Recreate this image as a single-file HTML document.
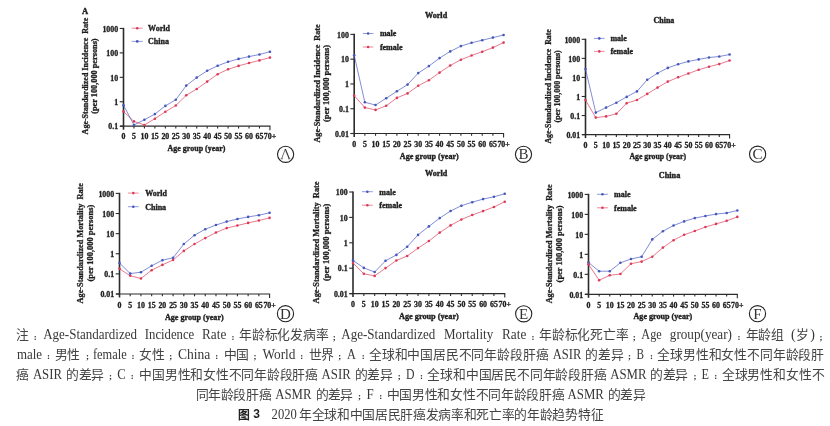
<!DOCTYPE html>
<html lang="zh-CN"><head><meta charset="utf-8"><title>Figure 3</title>
<style>
html,body{margin:0;padding:0;background:#fff;}
body{width:830px;height:426px;position:relative;overflow:hidden;font-family:"Liberation Serif",serif;}
svg{position:absolute;left:0;top:0;will-change:transform;}
.tk{font-family:"Liberation Serif",serif;font-weight:bold;font-size:7.9px;fill:#1e1e1e;stroke:#1e1e1e;stroke-width:0.3px;}
.lg{font-family:"Liberation Serif",serif;font-weight:bold;font-size:8px;fill:#1e1e1e;stroke:#1e1e1e;stroke-width:0.35px;}
.yl{font-family:"Liberation Serif",serif;font-weight:bold;font-size:8.2px;fill:#1e1e1e;stroke:#1e1e1e;stroke-width:0.3px;white-space:pre;}
.cl{font-family:"Liberation Serif",serif;font-size:15px;fill:#333;}
.cc{font-family:"Liberation Serif",serif;font-size:12.8px;fill:#444;}
.cl2{font-family:"Liberation Serif",serif;font-size:14px;fill:#383838;}
.cp{font-family:"Liberation Serif",serif;font-weight:bold;font-size:9px;fill:#333;}
.cb{font-family:"Liberation Sans",sans-serif;font-weight:bold;font-size:11.5px;fill:#222;}
.cb3{font-family:"Liberation Sans",sans-serif;font-weight:bold;font-size:12px;fill:#222;}
.cap{position:absolute;white-space:nowrap;font-family:"Liberation Serif",serif;font-size:13px;color:#3a3a3a;line-height:20px;}
</style></head><body>
<svg width="830" height="426" viewBox="0 0 830 426">
<line x1="123.5" y1="27.85" x2="123.5" y2="129.7" stroke="#2b2b2b" stroke-width="1.6"/>
<line x1="120" y1="126.2" x2="270.44" y2="126.2" stroke="#2b2b2b" stroke-width="1.2"/>
<line x1="119.7" y1="28.45" x2="123.5" y2="28.45" stroke="#2b2b2b" stroke-width="1.1"/>
<text x="118.2" y="31.65" text-anchor="end" class="tk">1000</text>
<line x1="119.7" y1="52.89" x2="123.5" y2="52.89" stroke="#2b2b2b" stroke-width="1.1"/>
<text x="118.2" y="56.09" text-anchor="end" class="tk">100</text>
<line x1="119.7" y1="77.33" x2="123.5" y2="77.33" stroke="#2b2b2b" stroke-width="1.1"/>
<text x="118.2" y="80.53" text-anchor="end" class="tk">10</text>
<line x1="119.7" y1="101.76" x2="123.5" y2="101.76" stroke="#2b2b2b" stroke-width="1.1"/>
<text x="118.2" y="104.96" text-anchor="end" class="tk">1</text>
<line x1="119.7" y1="126.2" x2="123.5" y2="126.2" stroke="#2b2b2b" stroke-width="1.1"/>
<text x="118.2" y="129.4" text-anchor="end" class="tk">0.1</text>
<text x="123.5" y="139.3" text-anchor="middle" class="tk">0</text>
<line x1="133.96" y1="126.2" x2="133.96" y2="128.5" stroke="#2b2b2b" stroke-width="1.1"/>
<text x="133.96" y="139.3" text-anchor="middle" class="tk">5</text>
<line x1="144.42" y1="126.2" x2="144.42" y2="128.5" stroke="#2b2b2b" stroke-width="1.1"/>
<text x="144.42" y="139.3" text-anchor="middle" class="tk">10</text>
<line x1="154.88" y1="126.2" x2="154.88" y2="128.5" stroke="#2b2b2b" stroke-width="1.1"/>
<text x="154.88" y="139.3" text-anchor="middle" class="tk">15</text>
<line x1="165.34" y1="126.2" x2="165.34" y2="128.5" stroke="#2b2b2b" stroke-width="1.1"/>
<text x="165.34" y="139.3" text-anchor="middle" class="tk">20</text>
<line x1="175.8" y1="126.2" x2="175.8" y2="128.5" stroke="#2b2b2b" stroke-width="1.1"/>
<text x="175.8" y="139.3" text-anchor="middle" class="tk">25</text>
<line x1="186.26" y1="126.2" x2="186.26" y2="128.5" stroke="#2b2b2b" stroke-width="1.1"/>
<text x="186.26" y="139.3" text-anchor="middle" class="tk">30</text>
<line x1="196.72" y1="126.2" x2="196.72" y2="128.5" stroke="#2b2b2b" stroke-width="1.1"/>
<text x="196.72" y="139.3" text-anchor="middle" class="tk">35</text>
<line x1="207.18" y1="126.2" x2="207.18" y2="128.5" stroke="#2b2b2b" stroke-width="1.1"/>
<text x="207.18" y="139.3" text-anchor="middle" class="tk">40</text>
<line x1="217.64" y1="126.2" x2="217.64" y2="128.5" stroke="#2b2b2b" stroke-width="1.1"/>
<text x="217.64" y="139.3" text-anchor="middle" class="tk">45</text>
<line x1="228.1" y1="126.2" x2="228.1" y2="128.5" stroke="#2b2b2b" stroke-width="1.1"/>
<text x="228.1" y="139.3" text-anchor="middle" class="tk">50</text>
<line x1="238.56" y1="126.2" x2="238.56" y2="128.5" stroke="#2b2b2b" stroke-width="1.1"/>
<text x="238.56" y="139.3" text-anchor="middle" class="tk">55</text>
<line x1="249.02" y1="126.2" x2="249.02" y2="128.5" stroke="#2b2b2b" stroke-width="1.1"/>
<text x="249.02" y="139.3" text-anchor="middle" class="tk">60</text>
<line x1="259.48" y1="126.2" x2="259.48" y2="128.5" stroke="#2b2b2b" stroke-width="1.1"/>
<text x="259.48" y="139.3" text-anchor="middle" class="tk">65</text>
<line x1="269.94" y1="126.2" x2="269.94" y2="130.2" stroke="#2b2b2b" stroke-width="1.1"/>
<text x="269.94" y="139.3" text-anchor="middle" class="tk">70+</text>
<polyline points="123.5,111.5 133.96,121.4 144.42,125 154.88,118.7 165.34,111.8 175.8,105.5 186.26,95.3 196.72,89 207.18,81.6 217.64,74.2 228.1,69.3 238.56,65.9 249.02,63 259.48,60.4 269.94,57.6" fill="none" stroke="#dd3a57" stroke-width="0.8" stroke-opacity="0.85"/>
<circle cx="123.5" cy="111.5" r="1.3" fill="#dd3a57"/>
<circle cx="133.96" cy="121.4" r="1.3" fill="#dd3a57"/>
<circle cx="144.42" cy="125" r="1.3" fill="#dd3a57"/>
<circle cx="154.88" cy="118.7" r="1.3" fill="#dd3a57"/>
<circle cx="165.34" cy="111.8" r="1.3" fill="#dd3a57"/>
<circle cx="175.8" cy="105.5" r="1.3" fill="#dd3a57"/>
<circle cx="186.26" cy="95.3" r="1.3" fill="#dd3a57"/>
<circle cx="196.72" cy="89" r="1.3" fill="#dd3a57"/>
<circle cx="207.18" cy="81.6" r="1.3" fill="#dd3a57"/>
<circle cx="217.64" cy="74.2" r="1.3" fill="#dd3a57"/>
<circle cx="228.1" cy="69.3" r="1.3" fill="#dd3a57"/>
<circle cx="238.56" cy="65.9" r="1.3" fill="#dd3a57"/>
<circle cx="249.02" cy="63" r="1.3" fill="#dd3a57"/>
<circle cx="259.48" cy="60.4" r="1.3" fill="#dd3a57"/>
<circle cx="269.94" cy="57.6" r="1.3" fill="#dd3a57"/>
<polyline points="123.5,105.2 133.96,125 144.42,119.7 154.88,114.1 165.34,105.9 175.8,99.7 186.26,85.6 196.72,77.6 207.18,70.8 217.64,65.8 228.1,61.8 238.56,58.9 249.02,56.6 259.48,54.5 269.94,51.7" fill="none" stroke="#4656bf" stroke-width="0.8" stroke-opacity="0.85"/>
<circle cx="123.5" cy="105.2" r="1.3" fill="#4656bf"/>
<circle cx="133.96" cy="125" r="1.3" fill="#4656bf"/>
<circle cx="144.42" cy="119.7" r="1.3" fill="#4656bf"/>
<circle cx="154.88" cy="114.1" r="1.3" fill="#4656bf"/>
<circle cx="165.34" cy="105.9" r="1.3" fill="#4656bf"/>
<circle cx="175.8" cy="99.7" r="1.3" fill="#4656bf"/>
<circle cx="186.26" cy="85.6" r="1.3" fill="#4656bf"/>
<circle cx="196.72" cy="77.6" r="1.3" fill="#4656bf"/>
<circle cx="207.18" cy="70.8" r="1.3" fill="#4656bf"/>
<circle cx="217.64" cy="65.8" r="1.3" fill="#4656bf"/>
<circle cx="228.1" cy="61.8" r="1.3" fill="#4656bf"/>
<circle cx="238.56" cy="58.9" r="1.3" fill="#4656bf"/>
<circle cx="249.02" cy="56.6" r="1.3" fill="#4656bf"/>
<circle cx="259.48" cy="54.5" r="1.3" fill="#4656bf"/>
<circle cx="269.94" cy="51.7" r="1.3" fill="#4656bf"/>
<line x1="131.7" y1="28.2" x2="142.8" y2="28.2" stroke="#dd3a57" stroke-width="0.8" stroke-opacity="0.75"/>
<circle cx="137.25" cy="28.2" r="1.3" fill="#dd3a57"/>
<text x="148.1" y="31.1" class="lg">World</text>
<line x1="131.7" y1="41.4" x2="142.8" y2="41.4" stroke="#4656bf" stroke-width="0.8" stroke-opacity="0.75"/>
<circle cx="137.25" cy="41.4" r="1.3" fill="#4656bf"/>
<text x="148.1" y="44.3" class="lg">China</text>
<text transform="translate(87.5,76.1) rotate(-90)" text-anchor="middle" class="yl" textLength="116.6" lengthAdjust="spacingAndGlyphs">Age-Standardized Incidence  Rate</text>
<text transform="translate(97.2,76.1) rotate(-90)" text-anchor="middle" class="yl" textLength="75.4" lengthAdjust="spacingAndGlyphs">(per 100,000 persons)</text>
<text x="167.6" y="150.6" class="lg" textLength="57.8" lengthAdjust="spacingAndGlyphs">Age group (year)</text>
<circle cx="285.6" cy="154.3" r="8.1" fill="none" stroke="#222" stroke-width="1.1"/>
<path d="M281.7,158.7 L285.3,149" fill="none" stroke="#333" stroke-width="0.7"/>
<path d="M285.3,149 L289.3,158.7" fill="none" stroke="#333" stroke-width="1.15"/>
<path d="M280.5,158.8h2.5 M288,158.8h2.6" fill="none" stroke="#333" stroke-width="0.6"/>
<line x1="354.2" y1="33.8" x2="354.2" y2="137" stroke="#2b2b2b" stroke-width="1.6"/>
<line x1="350.7" y1="133.5" x2="504.08" y2="133.5" stroke="#2b2b2b" stroke-width="1.2"/>
<line x1="350.4" y1="34.4" x2="354.2" y2="34.4" stroke="#2b2b2b" stroke-width="1.1"/>
<text x="348.9" y="37.6" text-anchor="end" class="tk">100</text>
<line x1="350.4" y1="59.17" x2="354.2" y2="59.17" stroke="#2b2b2b" stroke-width="1.1"/>
<text x="348.9" y="62.38" text-anchor="end" class="tk">10</text>
<line x1="350.4" y1="83.95" x2="354.2" y2="83.95" stroke="#2b2b2b" stroke-width="1.1"/>
<text x="348.9" y="87.15" text-anchor="end" class="tk">1</text>
<line x1="350.4" y1="108.72" x2="354.2" y2="108.72" stroke="#2b2b2b" stroke-width="1.1"/>
<text x="348.9" y="111.92" text-anchor="end" class="tk">0.1</text>
<line x1="350.4" y1="133.5" x2="354.2" y2="133.5" stroke="#2b2b2b" stroke-width="1.1"/>
<text x="348.9" y="136.7" text-anchor="end" class="tk">0.01</text>
<text x="354.2" y="147.3" text-anchor="middle" class="tk">0</text>
<line x1="364.87" y1="133.5" x2="364.87" y2="135.8" stroke="#2b2b2b" stroke-width="1.1"/>
<text x="364.87" y="147.3" text-anchor="middle" class="tk">5</text>
<line x1="375.54" y1="133.5" x2="375.54" y2="135.8" stroke="#2b2b2b" stroke-width="1.1"/>
<text x="375.54" y="147.3" text-anchor="middle" class="tk">10</text>
<line x1="386.21" y1="133.5" x2="386.21" y2="135.8" stroke="#2b2b2b" stroke-width="1.1"/>
<text x="386.21" y="147.3" text-anchor="middle" class="tk">15</text>
<line x1="396.88" y1="133.5" x2="396.88" y2="135.8" stroke="#2b2b2b" stroke-width="1.1"/>
<text x="396.88" y="147.3" text-anchor="middle" class="tk">20</text>
<line x1="407.55" y1="133.5" x2="407.55" y2="135.8" stroke="#2b2b2b" stroke-width="1.1"/>
<text x="407.55" y="147.3" text-anchor="middle" class="tk">25</text>
<line x1="418.22" y1="133.5" x2="418.22" y2="135.8" stroke="#2b2b2b" stroke-width="1.1"/>
<text x="418.22" y="147.3" text-anchor="middle" class="tk">30</text>
<line x1="428.89" y1="133.5" x2="428.89" y2="135.8" stroke="#2b2b2b" stroke-width="1.1"/>
<text x="428.89" y="147.3" text-anchor="middle" class="tk">35</text>
<line x1="439.56" y1="133.5" x2="439.56" y2="135.8" stroke="#2b2b2b" stroke-width="1.1"/>
<text x="439.56" y="147.3" text-anchor="middle" class="tk">40</text>
<line x1="450.23" y1="133.5" x2="450.23" y2="135.8" stroke="#2b2b2b" stroke-width="1.1"/>
<text x="450.23" y="147.3" text-anchor="middle" class="tk">45</text>
<line x1="460.9" y1="133.5" x2="460.9" y2="135.8" stroke="#2b2b2b" stroke-width="1.1"/>
<text x="460.9" y="147.3" text-anchor="middle" class="tk">50</text>
<line x1="471.57" y1="133.5" x2="471.57" y2="135.8" stroke="#2b2b2b" stroke-width="1.1"/>
<text x="471.57" y="147.3" text-anchor="middle" class="tk">55</text>
<line x1="482.24" y1="133.5" x2="482.24" y2="135.8" stroke="#2b2b2b" stroke-width="1.1"/>
<text x="482.24" y="147.3" text-anchor="middle" class="tk">60</text>
<line x1="492.91" y1="133.5" x2="492.91" y2="135.8" stroke="#2b2b2b" stroke-width="1.1"/>
<text x="492.91" y="147.3" text-anchor="middle" class="tk">65</text>
<line x1="503.58" y1="133.5" x2="503.58" y2="137.5" stroke="#2b2b2b" stroke-width="1.1"/>
<text x="503.58" y="147.3" text-anchor="middle" class="tk">70+</text>
<polyline points="354.2,55.3 364.87,102.3 375.54,105 386.21,98.2 396.88,91.3 407.55,84.6 418.22,73.1 428.89,66.1 439.56,58.1 450.23,51.4 460.9,46.1 471.57,42.8 482.24,40.2 492.91,37.6 503.58,35" fill="none" stroke="#4656bf" stroke-width="0.8" stroke-opacity="0.85"/>
<circle cx="354.2" cy="55.3" r="1.3" fill="#4656bf"/>
<circle cx="364.87" cy="102.3" r="1.3" fill="#4656bf"/>
<circle cx="375.54" cy="105" r="1.3" fill="#4656bf"/>
<circle cx="386.21" cy="98.2" r="1.3" fill="#4656bf"/>
<circle cx="396.88" cy="91.3" r="1.3" fill="#4656bf"/>
<circle cx="407.55" cy="84.6" r="1.3" fill="#4656bf"/>
<circle cx="418.22" cy="73.1" r="1.3" fill="#4656bf"/>
<circle cx="428.89" cy="66.1" r="1.3" fill="#4656bf"/>
<circle cx="439.56" cy="58.1" r="1.3" fill="#4656bf"/>
<circle cx="450.23" cy="51.4" r="1.3" fill="#4656bf"/>
<circle cx="460.9" cy="46.1" r="1.3" fill="#4656bf"/>
<circle cx="471.57" cy="42.8" r="1.3" fill="#4656bf"/>
<circle cx="482.24" cy="40.2" r="1.3" fill="#4656bf"/>
<circle cx="492.91" cy="37.6" r="1.3" fill="#4656bf"/>
<circle cx="503.58" cy="35" r="1.3" fill="#4656bf"/>
<polyline points="354.2,95.6 364.87,107.6 375.54,109.9 386.21,105.8 396.88,97.9 407.55,93.4 418.22,85.8 428.89,80.2 439.56,72.6 450.23,65.5 460.9,59.8 471.57,55.5 482.24,51.7 492.91,47.6 503.58,42.6" fill="none" stroke="#dd3a57" stroke-width="0.8" stroke-opacity="0.85"/>
<circle cx="354.2" cy="95.6" r="1.3" fill="#dd3a57"/>
<circle cx="364.87" cy="107.6" r="1.3" fill="#dd3a57"/>
<circle cx="375.54" cy="109.9" r="1.3" fill="#dd3a57"/>
<circle cx="386.21" cy="105.8" r="1.3" fill="#dd3a57"/>
<circle cx="396.88" cy="97.9" r="1.3" fill="#dd3a57"/>
<circle cx="407.55" cy="93.4" r="1.3" fill="#dd3a57"/>
<circle cx="418.22" cy="85.8" r="1.3" fill="#dd3a57"/>
<circle cx="428.89" cy="80.2" r="1.3" fill="#dd3a57"/>
<circle cx="439.56" cy="72.6" r="1.3" fill="#dd3a57"/>
<circle cx="450.23" cy="65.5" r="1.3" fill="#dd3a57"/>
<circle cx="460.9" cy="59.8" r="1.3" fill="#dd3a57"/>
<circle cx="471.57" cy="55.5" r="1.3" fill="#dd3a57"/>
<circle cx="482.24" cy="51.7" r="1.3" fill="#dd3a57"/>
<circle cx="492.91" cy="47.6" r="1.3" fill="#dd3a57"/>
<circle cx="503.58" cy="42.6" r="1.3" fill="#dd3a57"/>
<line x1="362.8" y1="33.5" x2="373.4" y2="33.5" stroke="#4656bf" stroke-width="0.8" stroke-opacity="0.75"/>
<circle cx="368.1" cy="33.5" r="1.3" fill="#4656bf"/>
<text x="379.9" y="36.4" class="lg">male</text>
<line x1="362.8" y1="47" x2="373.4" y2="47" stroke="#dd3a57" stroke-width="0.8" stroke-opacity="0.75"/>
<circle cx="368.1" cy="47" r="1.3" fill="#dd3a57"/>
<text x="379.9" y="49.9" class="lg">female</text>
<text x="424.9" y="18" class="lg" style="font-size:7.4px" textLength="22.3" lengthAdjust="spacingAndGlyphs">World</text>
<text transform="translate(319.5,83.5) rotate(-90)" text-anchor="middle" class="yl" textLength="118" lengthAdjust="spacingAndGlyphs">Age-Standardized Incidence  Rate</text>
<text transform="translate(329.3,83.5) rotate(-90)" text-anchor="middle" class="yl" textLength="77" lengthAdjust="spacingAndGlyphs">(per 100,000 persons)</text>
<text x="399.8" y="158.9" class="lg" textLength="59" lengthAdjust="spacingAndGlyphs">Age group (year)</text>
<circle cx="523.5" cy="154.3" r="8.1" fill="none" stroke="#222" stroke-width="1.1"/>
<text x="523.5" y="159.4" text-anchor="middle" class="cl">B</text>
<line x1="585.5" y1="38.7" x2="585.5" y2="138.1" stroke="#2b2b2b" stroke-width="1.6"/>
<line x1="582" y1="134.6" x2="730.06" y2="134.6" stroke="#2b2b2b" stroke-width="1.2"/>
<line x1="581.7" y1="39.3" x2="585.5" y2="39.3" stroke="#2b2b2b" stroke-width="1.1"/>
<text x="580.2" y="42.5" text-anchor="end" class="tk">1000</text>
<line x1="581.7" y1="58.36" x2="585.5" y2="58.36" stroke="#2b2b2b" stroke-width="1.1"/>
<text x="580.2" y="61.56" text-anchor="end" class="tk">100</text>
<line x1="581.7" y1="77.42" x2="585.5" y2="77.42" stroke="#2b2b2b" stroke-width="1.1"/>
<text x="580.2" y="80.62" text-anchor="end" class="tk">10</text>
<line x1="581.7" y1="96.48" x2="585.5" y2="96.48" stroke="#2b2b2b" stroke-width="1.1"/>
<text x="580.2" y="99.68" text-anchor="end" class="tk">1</text>
<line x1="581.7" y1="115.54" x2="585.5" y2="115.54" stroke="#2b2b2b" stroke-width="1.1"/>
<text x="580.2" y="118.74" text-anchor="end" class="tk">0.1</text>
<line x1="581.7" y1="134.6" x2="585.5" y2="134.6" stroke="#2b2b2b" stroke-width="1.1"/>
<text x="580.2" y="137.8" text-anchor="end" class="tk">0.01</text>
<text x="585.5" y="147.9" text-anchor="middle" class="tk">0</text>
<line x1="595.79" y1="134.6" x2="595.79" y2="136.9" stroke="#2b2b2b" stroke-width="1.1"/>
<text x="595.79" y="147.9" text-anchor="middle" class="tk">5</text>
<line x1="606.08" y1="134.6" x2="606.08" y2="136.9" stroke="#2b2b2b" stroke-width="1.1"/>
<text x="606.08" y="147.9" text-anchor="middle" class="tk">10</text>
<line x1="616.37" y1="134.6" x2="616.37" y2="136.9" stroke="#2b2b2b" stroke-width="1.1"/>
<text x="616.37" y="147.9" text-anchor="middle" class="tk">15</text>
<line x1="626.66" y1="134.6" x2="626.66" y2="136.9" stroke="#2b2b2b" stroke-width="1.1"/>
<text x="626.66" y="147.9" text-anchor="middle" class="tk">20</text>
<line x1="636.95" y1="134.6" x2="636.95" y2="136.9" stroke="#2b2b2b" stroke-width="1.1"/>
<text x="636.95" y="147.9" text-anchor="middle" class="tk">25</text>
<line x1="647.24" y1="134.6" x2="647.24" y2="136.9" stroke="#2b2b2b" stroke-width="1.1"/>
<text x="647.24" y="147.9" text-anchor="middle" class="tk">30</text>
<line x1="657.53" y1="134.6" x2="657.53" y2="136.9" stroke="#2b2b2b" stroke-width="1.1"/>
<text x="657.53" y="147.9" text-anchor="middle" class="tk">35</text>
<line x1="667.82" y1="134.6" x2="667.82" y2="136.9" stroke="#2b2b2b" stroke-width="1.1"/>
<text x="667.82" y="147.9" text-anchor="middle" class="tk">40</text>
<line x1="678.11" y1="134.6" x2="678.11" y2="136.9" stroke="#2b2b2b" stroke-width="1.1"/>
<text x="678.11" y="147.9" text-anchor="middle" class="tk">45</text>
<line x1="688.4" y1="134.6" x2="688.4" y2="136.9" stroke="#2b2b2b" stroke-width="1.1"/>
<text x="688.4" y="147.9" text-anchor="middle" class="tk">50</text>
<line x1="698.69" y1="134.6" x2="698.69" y2="136.9" stroke="#2b2b2b" stroke-width="1.1"/>
<text x="698.69" y="147.9" text-anchor="middle" class="tk">55</text>
<line x1="708.98" y1="134.6" x2="708.98" y2="136.9" stroke="#2b2b2b" stroke-width="1.1"/>
<text x="708.98" y="147.9" text-anchor="middle" class="tk">60</text>
<line x1="719.27" y1="134.6" x2="719.27" y2="136.9" stroke="#2b2b2b" stroke-width="1.1"/>
<text x="719.27" y="147.9" text-anchor="middle" class="tk">65</text>
<line x1="729.56" y1="134.6" x2="729.56" y2="138.6" stroke="#2b2b2b" stroke-width="1.1"/>
<text x="729.56" y="147.9" text-anchor="middle" class="tk">70+</text>
<polyline points="585.5,69.1 595.79,112.6 606.08,107.6 616.37,102.7 626.66,96.9 636.95,91.4 647.24,79.8 657.53,73.2 667.82,67.9 678.11,64.3 688.4,61.4 698.69,59.4 708.98,57.5 719.27,56.5 729.56,54.5" fill="none" stroke="#4656bf" stroke-width="0.8" stroke-opacity="0.85"/>
<circle cx="585.5" cy="69.1" r="1.3" fill="#4656bf"/>
<circle cx="595.79" cy="112.6" r="1.3" fill="#4656bf"/>
<circle cx="606.08" cy="107.6" r="1.3" fill="#4656bf"/>
<circle cx="616.37" cy="102.7" r="1.3" fill="#4656bf"/>
<circle cx="626.66" cy="96.9" r="1.3" fill="#4656bf"/>
<circle cx="636.95" cy="91.4" r="1.3" fill="#4656bf"/>
<circle cx="647.24" cy="79.8" r="1.3" fill="#4656bf"/>
<circle cx="657.53" cy="73.2" r="1.3" fill="#4656bf"/>
<circle cx="667.82" cy="67.9" r="1.3" fill="#4656bf"/>
<circle cx="678.11" cy="64.3" r="1.3" fill="#4656bf"/>
<circle cx="688.4" cy="61.4" r="1.3" fill="#4656bf"/>
<circle cx="698.69" cy="59.4" r="1.3" fill="#4656bf"/>
<circle cx="708.98" cy="57.5" r="1.3" fill="#4656bf"/>
<circle cx="719.27" cy="56.5" r="1.3" fill="#4656bf"/>
<circle cx="729.56" cy="54.5" r="1.3" fill="#4656bf"/>
<polyline points="585.5,100 595.79,117.6 606.08,116.4 616.37,113.8 626.66,103.2 636.95,100 647.24,93.9 657.53,87.6 667.82,81.6 678.11,77.3 688.4,73.5 698.69,69.8 708.98,66.7 719.27,64.1 729.56,60.5" fill="none" stroke="#dd3a57" stroke-width="0.8" stroke-opacity="0.85"/>
<circle cx="585.5" cy="100" r="1.3" fill="#dd3a57"/>
<circle cx="595.79" cy="117.6" r="1.3" fill="#dd3a57"/>
<circle cx="606.08" cy="116.4" r="1.3" fill="#dd3a57"/>
<circle cx="616.37" cy="113.8" r="1.3" fill="#dd3a57"/>
<circle cx="626.66" cy="103.2" r="1.3" fill="#dd3a57"/>
<circle cx="636.95" cy="100" r="1.3" fill="#dd3a57"/>
<circle cx="647.24" cy="93.9" r="1.3" fill="#dd3a57"/>
<circle cx="657.53" cy="87.6" r="1.3" fill="#dd3a57"/>
<circle cx="667.82" cy="81.6" r="1.3" fill="#dd3a57"/>
<circle cx="678.11" cy="77.3" r="1.3" fill="#dd3a57"/>
<circle cx="688.4" cy="73.5" r="1.3" fill="#dd3a57"/>
<circle cx="698.69" cy="69.8" r="1.3" fill="#dd3a57"/>
<circle cx="708.98" cy="66.7" r="1.3" fill="#dd3a57"/>
<circle cx="719.27" cy="64.1" r="1.3" fill="#dd3a57"/>
<circle cx="729.56" cy="60.5" r="1.3" fill="#dd3a57"/>
<line x1="594" y1="38.4" x2="604.6" y2="38.4" stroke="#4656bf" stroke-width="0.8" stroke-opacity="0.75"/>
<circle cx="599.3" cy="38.4" r="1.3" fill="#4656bf"/>
<text x="610.4" y="41.3" class="lg">male</text>
<line x1="594" y1="51.4" x2="604.6" y2="51.4" stroke="#dd3a57" stroke-width="0.8" stroke-opacity="0.75"/>
<circle cx="599.3" cy="51.4" r="1.3" fill="#dd3a57"/>
<text x="610.4" y="54.3" class="lg">female</text>
<text x="653.6" y="23.3" class="lg" style="font-size:7.4px" textLength="20.7" lengthAdjust="spacingAndGlyphs">China</text>
<text transform="translate(550.8,86.4) rotate(-90)" text-anchor="middle" class="yl" textLength="114.4" lengthAdjust="spacingAndGlyphs">Age-Standardized Incidence  Rate</text>
<text transform="translate(560.3,86.4) rotate(-90)" text-anchor="middle" class="yl" textLength="72.1" lengthAdjust="spacingAndGlyphs">(per 100,000 persons)</text>
<text x="629.4" y="159.2" class="lg" textLength="56.6" lengthAdjust="spacingAndGlyphs">Age group (year)</text>
<circle cx="757.6" cy="154.2" r="8.1" fill="none" stroke="#222" stroke-width="1.1"/>
<text x="757.6" y="159.3" text-anchor="middle" class="cl">C</text>
<line x1="119.5" y1="192.8" x2="119.5" y2="297.5" stroke="#2b2b2b" stroke-width="1.6"/>
<line x1="116" y1="294" x2="270.08" y2="294" stroke="#2b2b2b" stroke-width="1.2"/>
<line x1="115.7" y1="193.4" x2="119.5" y2="193.4" stroke="#2b2b2b" stroke-width="1.1"/>
<text x="114.2" y="196.6" text-anchor="end" class="tk">1000</text>
<line x1="115.7" y1="213.52" x2="119.5" y2="213.52" stroke="#2b2b2b" stroke-width="1.1"/>
<text x="114.2" y="216.72" text-anchor="end" class="tk">100</text>
<line x1="115.7" y1="233.64" x2="119.5" y2="233.64" stroke="#2b2b2b" stroke-width="1.1"/>
<text x="114.2" y="236.84" text-anchor="end" class="tk">10</text>
<line x1="115.7" y1="253.76" x2="119.5" y2="253.76" stroke="#2b2b2b" stroke-width="1.1"/>
<text x="114.2" y="256.96" text-anchor="end" class="tk">1</text>
<line x1="115.7" y1="273.88" x2="119.5" y2="273.88" stroke="#2b2b2b" stroke-width="1.1"/>
<text x="114.2" y="277.08" text-anchor="end" class="tk">0.1</text>
<line x1="115.7" y1="294" x2="119.5" y2="294" stroke="#2b2b2b" stroke-width="1.1"/>
<text x="114.2" y="297.2" text-anchor="end" class="tk">0.01</text>
<text x="119.5" y="307.5" text-anchor="middle" class="tk">0</text>
<line x1="130.22" y1="294" x2="130.22" y2="296.3" stroke="#2b2b2b" stroke-width="1.1"/>
<text x="130.22" y="307.5" text-anchor="middle" class="tk">5</text>
<line x1="140.94" y1="294" x2="140.94" y2="296.3" stroke="#2b2b2b" stroke-width="1.1"/>
<text x="140.94" y="307.5" text-anchor="middle" class="tk">10</text>
<line x1="151.66" y1="294" x2="151.66" y2="296.3" stroke="#2b2b2b" stroke-width="1.1"/>
<text x="151.66" y="307.5" text-anchor="middle" class="tk">15</text>
<line x1="162.38" y1="294" x2="162.38" y2="296.3" stroke="#2b2b2b" stroke-width="1.1"/>
<text x="162.38" y="307.5" text-anchor="middle" class="tk">20</text>
<line x1="173.1" y1="294" x2="173.1" y2="296.3" stroke="#2b2b2b" stroke-width="1.1"/>
<text x="173.1" y="307.5" text-anchor="middle" class="tk">25</text>
<line x1="183.82" y1="294" x2="183.82" y2="296.3" stroke="#2b2b2b" stroke-width="1.1"/>
<text x="183.82" y="307.5" text-anchor="middle" class="tk">30</text>
<line x1="194.54" y1="294" x2="194.54" y2="296.3" stroke="#2b2b2b" stroke-width="1.1"/>
<text x="194.54" y="307.5" text-anchor="middle" class="tk">35</text>
<line x1="205.26" y1="294" x2="205.26" y2="296.3" stroke="#2b2b2b" stroke-width="1.1"/>
<text x="205.26" y="307.5" text-anchor="middle" class="tk">40</text>
<line x1="215.98" y1="294" x2="215.98" y2="296.3" stroke="#2b2b2b" stroke-width="1.1"/>
<text x="215.98" y="307.5" text-anchor="middle" class="tk">45</text>
<line x1="226.7" y1="294" x2="226.7" y2="296.3" stroke="#2b2b2b" stroke-width="1.1"/>
<text x="226.7" y="307.5" text-anchor="middle" class="tk">50</text>
<line x1="237.42" y1="294" x2="237.42" y2="296.3" stroke="#2b2b2b" stroke-width="1.1"/>
<text x="237.42" y="307.5" text-anchor="middle" class="tk">55</text>
<line x1="248.14" y1="294" x2="248.14" y2="296.3" stroke="#2b2b2b" stroke-width="1.1"/>
<text x="248.14" y="307.5" text-anchor="middle" class="tk">60</text>
<line x1="258.86" y1="294" x2="258.86" y2="296.3" stroke="#2b2b2b" stroke-width="1.1"/>
<text x="258.86" y="307.5" text-anchor="middle" class="tk">65</text>
<line x1="269.58" y1="294" x2="269.58" y2="298" stroke="#2b2b2b" stroke-width="1.1"/>
<text x="269.58" y="307.5" text-anchor="middle" class="tk">70+</text>
<polyline points="119.5,268.8 130.22,275.8 140.94,278.5 151.66,270.2 162.38,264.9 173.1,260 183.82,250.9 194.54,244 205.26,238.1 215.98,232.5 226.7,228.1 237.42,225.5 248.14,222.9 258.86,220.5 269.58,217.9" fill="none" stroke="#dd3a57" stroke-width="0.8" stroke-opacity="0.85"/>
<circle cx="119.5" cy="268.8" r="1.3" fill="#dd3a57"/>
<circle cx="130.22" cy="275.8" r="1.3" fill="#dd3a57"/>
<circle cx="140.94" cy="278.5" r="1.3" fill="#dd3a57"/>
<circle cx="151.66" cy="270.2" r="1.3" fill="#dd3a57"/>
<circle cx="162.38" cy="264.9" r="1.3" fill="#dd3a57"/>
<circle cx="173.1" cy="260" r="1.3" fill="#dd3a57"/>
<circle cx="183.82" cy="250.9" r="1.3" fill="#dd3a57"/>
<circle cx="194.54" cy="244" r="1.3" fill="#dd3a57"/>
<circle cx="205.26" cy="238.1" r="1.3" fill="#dd3a57"/>
<circle cx="215.98" cy="232.5" r="1.3" fill="#dd3a57"/>
<circle cx="226.7" cy="228.1" r="1.3" fill="#dd3a57"/>
<circle cx="237.42" cy="225.5" r="1.3" fill="#dd3a57"/>
<circle cx="248.14" cy="222.9" r="1.3" fill="#dd3a57"/>
<circle cx="258.86" cy="220.5" r="1.3" fill="#dd3a57"/>
<circle cx="269.58" cy="217.9" r="1.3" fill="#dd3a57"/>
<polyline points="119.5,263.1 130.22,273.6 140.94,272.2 151.66,265.8 162.38,260.2 173.1,257.8 183.82,244 194.54,235.2 205.26,229.2 215.98,225 226.7,221.6 237.42,219 248.14,216.9 258.86,215.2 269.58,212.8" fill="none" stroke="#4656bf" stroke-width="0.8" stroke-opacity="0.85"/>
<circle cx="119.5" cy="263.1" r="1.3" fill="#4656bf"/>
<circle cx="130.22" cy="273.6" r="1.3" fill="#4656bf"/>
<circle cx="140.94" cy="272.2" r="1.3" fill="#4656bf"/>
<circle cx="151.66" cy="265.8" r="1.3" fill="#4656bf"/>
<circle cx="162.38" cy="260.2" r="1.3" fill="#4656bf"/>
<circle cx="173.1" cy="257.8" r="1.3" fill="#4656bf"/>
<circle cx="183.82" cy="244" r="1.3" fill="#4656bf"/>
<circle cx="194.54" cy="235.2" r="1.3" fill="#4656bf"/>
<circle cx="205.26" cy="229.2" r="1.3" fill="#4656bf"/>
<circle cx="215.98" cy="225" r="1.3" fill="#4656bf"/>
<circle cx="226.7" cy="221.6" r="1.3" fill="#4656bf"/>
<circle cx="237.42" cy="219" r="1.3" fill="#4656bf"/>
<circle cx="248.14" cy="216.9" r="1.3" fill="#4656bf"/>
<circle cx="258.86" cy="215.2" r="1.3" fill="#4656bf"/>
<circle cx="269.58" cy="212.8" r="1.3" fill="#4656bf"/>
<line x1="127.9" y1="193.1" x2="138.7" y2="193.1" stroke="#dd3a57" stroke-width="0.8" stroke-opacity="0.75"/>
<circle cx="133.3" cy="193.1" r="1.3" fill="#dd3a57"/>
<text x="145.2" y="196" class="lg">World</text>
<line x1="127.9" y1="206.7" x2="138.7" y2="206.7" stroke="#4656bf" stroke-width="0.8" stroke-opacity="0.75"/>
<circle cx="133.3" cy="206.7" r="1.3" fill="#4656bf"/>
<text x="145.2" y="209.6" class="lg">China</text>
<text transform="translate(82.8,243.2) rotate(-90)" text-anchor="middle" class="yl" textLength="120.4" lengthAdjust="spacingAndGlyphs">Age-Standardized Mortality  Rate</text>
<text transform="translate(93,243.2) rotate(-90)" text-anchor="middle" class="yl" textLength="76.8" lengthAdjust="spacingAndGlyphs">(per 100,000 persons)</text>
<text x="164.9" y="319.9" class="lg" textLength="58.8" lengthAdjust="spacingAndGlyphs">Age group (year)</text>
<circle cx="285.5" cy="313.7" r="8.1" fill="none" stroke="#222" stroke-width="1.1"/>
<text x="285.5" y="318.8" text-anchor="middle" class="cl">D</text>
<line x1="353" y1="191.4" x2="353" y2="297.1" stroke="#2b2b2b" stroke-width="1.6"/>
<line x1="349.5" y1="293.6" x2="505.26" y2="293.6" stroke="#2b2b2b" stroke-width="1.2"/>
<line x1="349.2" y1="192" x2="353" y2="192" stroke="#2b2b2b" stroke-width="1.1"/>
<text x="347.7" y="195.2" text-anchor="end" class="tk">100</text>
<line x1="349.2" y1="217.4" x2="353" y2="217.4" stroke="#2b2b2b" stroke-width="1.1"/>
<text x="347.7" y="220.6" text-anchor="end" class="tk">10</text>
<line x1="349.2" y1="242.8" x2="353" y2="242.8" stroke="#2b2b2b" stroke-width="1.1"/>
<text x="347.7" y="246" text-anchor="end" class="tk">1</text>
<line x1="349.2" y1="268.2" x2="353" y2="268.2" stroke="#2b2b2b" stroke-width="1.1"/>
<text x="347.7" y="271.4" text-anchor="end" class="tk">0.1</text>
<line x1="349.2" y1="293.6" x2="353" y2="293.6" stroke="#2b2b2b" stroke-width="1.1"/>
<text x="347.7" y="296.8" text-anchor="end" class="tk">0.01</text>
<text x="353" y="307.4" text-anchor="middle" class="tk">0</text>
<line x1="363.84" y1="293.6" x2="363.84" y2="295.9" stroke="#2b2b2b" stroke-width="1.1"/>
<text x="363.84" y="307.4" text-anchor="middle" class="tk">5</text>
<line x1="374.68" y1="293.6" x2="374.68" y2="295.9" stroke="#2b2b2b" stroke-width="1.1"/>
<text x="374.68" y="307.4" text-anchor="middle" class="tk">10</text>
<line x1="385.52" y1="293.6" x2="385.52" y2="295.9" stroke="#2b2b2b" stroke-width="1.1"/>
<text x="385.52" y="307.4" text-anchor="middle" class="tk">15</text>
<line x1="396.36" y1="293.6" x2="396.36" y2="295.9" stroke="#2b2b2b" stroke-width="1.1"/>
<text x="396.36" y="307.4" text-anchor="middle" class="tk">20</text>
<line x1="407.2" y1="293.6" x2="407.2" y2="295.9" stroke="#2b2b2b" stroke-width="1.1"/>
<text x="407.2" y="307.4" text-anchor="middle" class="tk">25</text>
<line x1="418.04" y1="293.6" x2="418.04" y2="295.9" stroke="#2b2b2b" stroke-width="1.1"/>
<text x="418.04" y="307.4" text-anchor="middle" class="tk">30</text>
<line x1="428.88" y1="293.6" x2="428.88" y2="295.9" stroke="#2b2b2b" stroke-width="1.1"/>
<text x="428.88" y="307.4" text-anchor="middle" class="tk">35</text>
<line x1="439.72" y1="293.6" x2="439.72" y2="295.9" stroke="#2b2b2b" stroke-width="1.1"/>
<text x="439.72" y="307.4" text-anchor="middle" class="tk">40</text>
<line x1="450.56" y1="293.6" x2="450.56" y2="295.9" stroke="#2b2b2b" stroke-width="1.1"/>
<text x="450.56" y="307.4" text-anchor="middle" class="tk">45</text>
<line x1="461.4" y1="293.6" x2="461.4" y2="295.9" stroke="#2b2b2b" stroke-width="1.1"/>
<text x="461.4" y="307.4" text-anchor="middle" class="tk">50</text>
<line x1="472.24" y1="293.6" x2="472.24" y2="295.9" stroke="#2b2b2b" stroke-width="1.1"/>
<text x="472.24" y="307.4" text-anchor="middle" class="tk">55</text>
<line x1="483.08" y1="293.6" x2="483.08" y2="295.9" stroke="#2b2b2b" stroke-width="1.1"/>
<text x="483.08" y="307.4" text-anchor="middle" class="tk">60</text>
<line x1="493.92" y1="293.6" x2="493.92" y2="295.9" stroke="#2b2b2b" stroke-width="1.1"/>
<text x="493.92" y="307.4" text-anchor="middle" class="tk">65</text>
<line x1="504.76" y1="293.6" x2="504.76" y2="297.6" stroke="#2b2b2b" stroke-width="1.1"/>
<text x="504.76" y="307.4" text-anchor="middle" class="tk">70+</text>
<polyline points="353,260.4 363.84,267.9 374.68,272 385.52,260.8 396.36,254.9 407.2,246.7 418.04,234.9 428.88,226.4 439.72,218.1 450.56,211 461.4,205.7 472.24,202.2 483.08,199.1 493.92,196.8 504.76,193.8" fill="none" stroke="#4656bf" stroke-width="0.8" stroke-opacity="0.85"/>
<circle cx="353" cy="260.4" r="1.3" fill="#4656bf"/>
<circle cx="363.84" cy="267.9" r="1.3" fill="#4656bf"/>
<circle cx="374.68" cy="272" r="1.3" fill="#4656bf"/>
<circle cx="385.52" cy="260.8" r="1.3" fill="#4656bf"/>
<circle cx="396.36" cy="254.9" r="1.3" fill="#4656bf"/>
<circle cx="407.2" cy="246.7" r="1.3" fill="#4656bf"/>
<circle cx="418.04" cy="234.9" r="1.3" fill="#4656bf"/>
<circle cx="428.88" cy="226.4" r="1.3" fill="#4656bf"/>
<circle cx="439.72" cy="218.1" r="1.3" fill="#4656bf"/>
<circle cx="450.56" cy="211" r="1.3" fill="#4656bf"/>
<circle cx="461.4" cy="205.7" r="1.3" fill="#4656bf"/>
<circle cx="472.24" cy="202.2" r="1.3" fill="#4656bf"/>
<circle cx="483.08" cy="199.1" r="1.3" fill="#4656bf"/>
<circle cx="493.92" cy="196.8" r="1.3" fill="#4656bf"/>
<circle cx="504.76" cy="193.8" r="1.3" fill="#4656bf"/>
<polyline points="353,263 363.84,273.8 374.68,275.9 385.52,268.1 396.36,260.5 407.2,256 418.04,248.1 428.88,241 439.72,232.6 450.56,225.4 461.4,219.5 472.24,215 483.08,211.1 493.92,207 504.76,201.7" fill="none" stroke="#dd3a57" stroke-width="0.8" stroke-opacity="0.85"/>
<circle cx="353" cy="263" r="1.3" fill="#dd3a57"/>
<circle cx="363.84" cy="273.8" r="1.3" fill="#dd3a57"/>
<circle cx="374.68" cy="275.9" r="1.3" fill="#dd3a57"/>
<circle cx="385.52" cy="268.1" r="1.3" fill="#dd3a57"/>
<circle cx="396.36" cy="260.5" r="1.3" fill="#dd3a57"/>
<circle cx="407.2" cy="256" r="1.3" fill="#dd3a57"/>
<circle cx="418.04" cy="248.1" r="1.3" fill="#dd3a57"/>
<circle cx="428.88" cy="241" r="1.3" fill="#dd3a57"/>
<circle cx="439.72" cy="232.6" r="1.3" fill="#dd3a57"/>
<circle cx="450.56" cy="225.4" r="1.3" fill="#dd3a57"/>
<circle cx="461.4" cy="219.5" r="1.3" fill="#dd3a57"/>
<circle cx="472.24" cy="215" r="1.3" fill="#dd3a57"/>
<circle cx="483.08" cy="211.1" r="1.3" fill="#dd3a57"/>
<circle cx="493.92" cy="207" r="1.3" fill="#dd3a57"/>
<circle cx="504.76" cy="201.7" r="1.3" fill="#dd3a57"/>
<line x1="361.9" y1="191.7" x2="372.8" y2="191.7" stroke="#4656bf" stroke-width="0.8" stroke-opacity="0.75"/>
<circle cx="367.35" cy="191.7" r="1.3" fill="#4656bf"/>
<text x="379.3" y="194.6" class="lg">male</text>
<line x1="361.9" y1="205.2" x2="372.8" y2="205.2" stroke="#dd3a57" stroke-width="0.8" stroke-opacity="0.75"/>
<circle cx="367.35" cy="205.2" r="1.3" fill="#dd3a57"/>
<text x="379.3" y="208.1" class="lg">female</text>
<text x="425.1" y="176.3" class="lg" style="font-size:7.4px" textLength="22.1" lengthAdjust="spacingAndGlyphs">World</text>
<text transform="translate(318.6,242.4) rotate(-90)" text-anchor="middle" class="yl" textLength="122" lengthAdjust="spacingAndGlyphs">Age-Standardized Mortality  Rate</text>
<text transform="translate(328.7,242.4) rotate(-90)" text-anchor="middle" class="yl" textLength="77.3" lengthAdjust="spacingAndGlyphs">(per 100,000 persons)</text>
<text x="399" y="319" class="lg" textLength="59.8" lengthAdjust="spacingAndGlyphs">Age group (year)</text>
<circle cx="523.7" cy="313.8" r="8.1" fill="none" stroke="#222" stroke-width="1.1"/>
<text x="523.7" y="318.9" text-anchor="middle" class="cl">E</text>
<line x1="588.5" y1="193.8" x2="588.5" y2="297.8" stroke="#2b2b2b" stroke-width="1.6"/>
<line x1="585" y1="294.3" x2="737.82" y2="294.3" stroke="#2b2b2b" stroke-width="1.2"/>
<line x1="584.7" y1="194.4" x2="588.5" y2="194.4" stroke="#2b2b2b" stroke-width="1.1"/>
<text x="583.2" y="197.6" text-anchor="end" class="tk">1000</text>
<line x1="584.7" y1="214.38" x2="588.5" y2="214.38" stroke="#2b2b2b" stroke-width="1.1"/>
<text x="583.2" y="217.58" text-anchor="end" class="tk">100</text>
<line x1="584.7" y1="234.36" x2="588.5" y2="234.36" stroke="#2b2b2b" stroke-width="1.1"/>
<text x="583.2" y="237.56" text-anchor="end" class="tk">10</text>
<line x1="584.7" y1="254.34" x2="588.5" y2="254.34" stroke="#2b2b2b" stroke-width="1.1"/>
<text x="583.2" y="257.54" text-anchor="end" class="tk">1</text>
<line x1="584.7" y1="274.32" x2="588.5" y2="274.32" stroke="#2b2b2b" stroke-width="1.1"/>
<text x="583.2" y="277.52" text-anchor="end" class="tk">0.1</text>
<line x1="584.7" y1="294.3" x2="588.5" y2="294.3" stroke="#2b2b2b" stroke-width="1.1"/>
<text x="583.2" y="297.5" text-anchor="end" class="tk">0.01</text>
<text x="588.5" y="307.8" text-anchor="middle" class="tk">0</text>
<line x1="599.13" y1="294.3" x2="599.13" y2="296.6" stroke="#2b2b2b" stroke-width="1.1"/>
<text x="599.13" y="307.8" text-anchor="middle" class="tk">5</text>
<line x1="609.76" y1="294.3" x2="609.76" y2="296.6" stroke="#2b2b2b" stroke-width="1.1"/>
<text x="609.76" y="307.8" text-anchor="middle" class="tk">10</text>
<line x1="620.39" y1="294.3" x2="620.39" y2="296.6" stroke="#2b2b2b" stroke-width="1.1"/>
<text x="620.39" y="307.8" text-anchor="middle" class="tk">15</text>
<line x1="631.02" y1="294.3" x2="631.02" y2="296.6" stroke="#2b2b2b" stroke-width="1.1"/>
<text x="631.02" y="307.8" text-anchor="middle" class="tk">20</text>
<line x1="641.65" y1="294.3" x2="641.65" y2="296.6" stroke="#2b2b2b" stroke-width="1.1"/>
<text x="641.65" y="307.8" text-anchor="middle" class="tk">25</text>
<line x1="652.28" y1="294.3" x2="652.28" y2="296.6" stroke="#2b2b2b" stroke-width="1.1"/>
<text x="652.28" y="307.8" text-anchor="middle" class="tk">30</text>
<line x1="662.91" y1="294.3" x2="662.91" y2="296.6" stroke="#2b2b2b" stroke-width="1.1"/>
<text x="662.91" y="307.8" text-anchor="middle" class="tk">35</text>
<line x1="673.54" y1="294.3" x2="673.54" y2="296.6" stroke="#2b2b2b" stroke-width="1.1"/>
<text x="673.54" y="307.8" text-anchor="middle" class="tk">40</text>
<line x1="684.17" y1="294.3" x2="684.17" y2="296.6" stroke="#2b2b2b" stroke-width="1.1"/>
<text x="684.17" y="307.8" text-anchor="middle" class="tk">45</text>
<line x1="694.8" y1="294.3" x2="694.8" y2="296.6" stroke="#2b2b2b" stroke-width="1.1"/>
<text x="694.8" y="307.8" text-anchor="middle" class="tk">50</text>
<line x1="705.43" y1="294.3" x2="705.43" y2="296.6" stroke="#2b2b2b" stroke-width="1.1"/>
<text x="705.43" y="307.8" text-anchor="middle" class="tk">55</text>
<line x1="716.06" y1="294.3" x2="716.06" y2="296.6" stroke="#2b2b2b" stroke-width="1.1"/>
<text x="716.06" y="307.8" text-anchor="middle" class="tk">60</text>
<line x1="726.69" y1="294.3" x2="726.69" y2="296.6" stroke="#2b2b2b" stroke-width="1.1"/>
<text x="726.69" y="307.8" text-anchor="middle" class="tk">65</text>
<line x1="737.32" y1="294.3" x2="737.32" y2="298.3" stroke="#2b2b2b" stroke-width="1.1"/>
<text x="737.32" y="307.8" text-anchor="middle" class="tk">70+</text>
<polyline points="588.5,262.5 599.13,271.2 609.76,271.2 620.39,262.8 631.02,259 641.65,256.7 652.28,239.4 662.91,231.2 673.54,225.5 684.17,221.4 694.8,218.1 705.43,216 716.06,214.1 726.69,213 737.32,210.5" fill="none" stroke="#4656bf" stroke-width="0.8" stroke-opacity="0.85"/>
<circle cx="588.5" cy="262.5" r="1.3" fill="#4656bf"/>
<circle cx="599.13" cy="271.2" r="1.3" fill="#4656bf"/>
<circle cx="609.76" cy="271.2" r="1.3" fill="#4656bf"/>
<circle cx="620.39" cy="262.8" r="1.3" fill="#4656bf"/>
<circle cx="631.02" cy="259" r="1.3" fill="#4656bf"/>
<circle cx="641.65" cy="256.7" r="1.3" fill="#4656bf"/>
<circle cx="652.28" cy="239.4" r="1.3" fill="#4656bf"/>
<circle cx="662.91" cy="231.2" r="1.3" fill="#4656bf"/>
<circle cx="673.54" cy="225.5" r="1.3" fill="#4656bf"/>
<circle cx="684.17" cy="221.4" r="1.3" fill="#4656bf"/>
<circle cx="694.8" cy="218.1" r="1.3" fill="#4656bf"/>
<circle cx="705.43" cy="216" r="1.3" fill="#4656bf"/>
<circle cx="716.06" cy="214.1" r="1.3" fill="#4656bf"/>
<circle cx="726.69" cy="213" r="1.3" fill="#4656bf"/>
<circle cx="737.32" cy="210.5" r="1.3" fill="#4656bf"/>
<polyline points="588.5,264.3 599.13,280.2 609.76,275.3 620.39,274 631.02,263.7 641.65,261.6 652.28,256.7 662.91,247.6 673.54,240.2 684.17,234.8 694.8,231 705.43,227 716.06,223.9 726.69,220.8 737.32,216.9" fill="none" stroke="#dd3a57" stroke-width="0.8" stroke-opacity="0.85"/>
<circle cx="588.5" cy="264.3" r="1.3" fill="#dd3a57"/>
<circle cx="599.13" cy="280.2" r="1.3" fill="#dd3a57"/>
<circle cx="609.76" cy="275.3" r="1.3" fill="#dd3a57"/>
<circle cx="620.39" cy="274" r="1.3" fill="#dd3a57"/>
<circle cx="631.02" cy="263.7" r="1.3" fill="#dd3a57"/>
<circle cx="641.65" cy="261.6" r="1.3" fill="#dd3a57"/>
<circle cx="652.28" cy="256.7" r="1.3" fill="#dd3a57"/>
<circle cx="662.91" cy="247.6" r="1.3" fill="#dd3a57"/>
<circle cx="673.54" cy="240.2" r="1.3" fill="#dd3a57"/>
<circle cx="684.17" cy="234.8" r="1.3" fill="#dd3a57"/>
<circle cx="694.8" cy="231" r="1.3" fill="#dd3a57"/>
<circle cx="705.43" cy="227" r="1.3" fill="#dd3a57"/>
<circle cx="716.06" cy="223.9" r="1.3" fill="#dd3a57"/>
<circle cx="726.69" cy="220.8" r="1.3" fill="#dd3a57"/>
<circle cx="737.32" cy="216.9" r="1.3" fill="#dd3a57"/>
<line x1="597" y1="194.3" x2="607.9" y2="194.3" stroke="#4656bf" stroke-width="0.8" stroke-opacity="0.75"/>
<circle cx="602.45" cy="194.3" r="1.3" fill="#4656bf"/>
<text x="614" y="197.2" class="lg">male</text>
<line x1="597" y1="207.8" x2="607.9" y2="207.8" stroke="#dd3a57" stroke-width="0.8" stroke-opacity="0.75"/>
<circle cx="602.45" cy="207.8" r="1.3" fill="#dd3a57"/>
<text x="614" y="210.7" class="lg">female</text>
<text x="658.8" y="178" class="lg" style="font-size:7.4px" textLength="21.5" lengthAdjust="spacingAndGlyphs">China</text>
<text transform="translate(551.8,243.9) rotate(-90)" text-anchor="middle" class="yl" textLength="118.8" lengthAdjust="spacingAndGlyphs">Age-Standardized Mortality  Rate</text>
<text transform="translate(561.5,243.9) rotate(-90)" text-anchor="middle" class="yl" textLength="77" lengthAdjust="spacingAndGlyphs">(per 100,000 persons)</text>
<text x="633.5" y="319.2" class="lg" textLength="58.8" lengthAdjust="spacingAndGlyphs">Age group (year)</text>
<circle cx="757.5" cy="313.7" r="8.1" fill="none" stroke="#222" stroke-width="1.1"/>
<text x="757.5" y="318.8" text-anchor="middle" class="cl">F</text>
<text x="85" y="13.9" text-anchor="middle" class="lg" style="font-size:8.5px">A</text>
<text x="16.4" y="339" class="cc">注</text>
<text x="35.3" y="339.6" text-anchor="middle" class="cp">:</text>
<text x="43.2" y="339" class="cl2" textLength="93.8" lengthAdjust="spacingAndGlyphs">Age-Standardized</text>
<text x="144.8" y="339" class="cl2" textLength="49.4" lengthAdjust="spacingAndGlyphs">Incidence</text>
<text x="202" y="339" class="cl2" textLength="24.3" lengthAdjust="spacingAndGlyphs">Rate</text>
<text x="233" y="339.6" text-anchor="middle" class="cp">:</text>
<text x="239.4" y="339" class="cc" textLength="89.1" lengthAdjust="spacing">年龄标化发病率</text>
<text x="334.3" y="339.6" text-anchor="middle" class="cp">;</text>
<text x="341.3" y="339" class="cl2" textLength="93.9" lengthAdjust="spacingAndGlyphs">Age-Standardized</text>
<text x="443.9" y="339" class="cl2" textLength="49.3" lengthAdjust="spacingAndGlyphs">Mortality</text>
<text x="502" y="339" class="cl2" textLength="24.3" lengthAdjust="spacingAndGlyphs">Rate</text>
<text x="533" y="339.6" text-anchor="middle" class="cp">:</text>
<text x="539.4" y="339" class="cc" textLength="89.1" lengthAdjust="spacing">年龄标化死亡率</text>
<text x="634.3" y="339.6" text-anchor="middle" class="cp">;</text>
<text x="641.3" y="339" class="cl2" textLength="20.4" lengthAdjust="spacingAndGlyphs">Age</text>
<text x="669.8" y="339" class="cl2" textLength="62.2" lengthAdjust="spacingAndGlyphs">group(year)</text>
<text x="739" y="339.6" text-anchor="middle" class="cp">:</text>
<text x="745.5" y="339" class="cc" textLength="38.3" lengthAdjust="spacing">年龄组</text>
<text x="791.1" y="339" class="cl2">(</text>
<text x="796.1" y="339" class="cc">岁</text>
<text x="810.3" y="339" class="cl2">)</text>
<text x="821" y="339.6" text-anchor="middle" class="cp">;</text>
<text x="17" y="358.8" class="cl2" textLength="25.1" lengthAdjust="spacingAndGlyphs">male</text>
<text x="48.4" y="359.4" text-anchor="middle" class="cp">:</text>
<text x="54.9" y="358.8" class="cc" textLength="25.5" lengthAdjust="spacing">男性</text>
<text x="87.5" y="359.4" text-anchor="middle" class="cp">;</text>
<text x="93" y="358.8" class="cl2" textLength="33.7" lengthAdjust="spacingAndGlyphs">female</text>
<text x="133.1" y="359.4" text-anchor="middle" class="cp">:</text>
<text x="139.3" y="358.8" class="cc" textLength="25.7" lengthAdjust="spacing">女性</text>
<text x="170.8" y="359.4" text-anchor="middle" class="cp">;</text>
<text x="178" y="358.8" class="cl2" textLength="32.4" lengthAdjust="spacingAndGlyphs">China</text>
<text x="216.7" y="359.4" text-anchor="middle" class="cp">:</text>
<text x="224" y="358.8" class="cc" textLength="24.8" lengthAdjust="spacing">中国</text>
<text x="255" y="359.4" text-anchor="middle" class="cp">;</text>
<text x="262.4" y="358.8" class="cl2" textLength="33.1" lengthAdjust="spacingAndGlyphs">World</text>
<text x="301.8" y="359.4" text-anchor="middle" class="cp">:</text>
<text x="308.8" y="358.8" class="cc" textLength="25.1" lengthAdjust="spacing">世界</text>
<text x="339.8" y="359.4" text-anchor="middle" class="cp">;</text>
<text x="347" y="358.8" class="cl2" textLength="8.9" lengthAdjust="spacingAndGlyphs">A</text>
<text x="363.2" y="359.4" text-anchor="middle" class="cp">:</text>
<text x="369" y="358.8" class="cc" textLength="179.5" lengthAdjust="spacing">全球和中国居民不同年龄段肝癌</text>
<text x="552.7" y="358.8" class="cl2" textLength="28.6" lengthAdjust="spacingAndGlyphs">ASIR</text>
<text x="585.2" y="358.8" class="cc" textLength="38.4" lengthAdjust="spacing">的差异</text>
<text x="629.5" y="359.4" text-anchor="middle" class="cp">;</text>
<text x="636.6" y="358.8" class="cl2" textLength="7.5" lengthAdjust="spacingAndGlyphs">B</text>
<text x="651.5" y="359.4" text-anchor="middle" class="cp">:</text>
<text x="657.3" y="358.8" class="cc" textLength="166.9" lengthAdjust="spacing">全球男性和女性不同年龄段肝</text>
<text x="15.8" y="378.8" class="cc">癌</text>
<text x="32.9" y="378.8" class="cl2" textLength="29.1" lengthAdjust="spacingAndGlyphs">ASIR</text>
<text x="66.2" y="378.8" class="cc" textLength="38" lengthAdjust="spacing">的差异</text>
<text x="110.5" y="379.4" text-anchor="middle" class="cp">;</text>
<text x="117.3" y="378.8" class="cl2" textLength="8.5" lengthAdjust="spacingAndGlyphs">C</text>
<text x="132.2" y="379.4" text-anchor="middle" class="cp">:</text>
<text x="139.3" y="378.8" class="cc" textLength="178.7" lengthAdjust="spacing">中国男性和女性不同年龄段肝癌</text>
<text x="321.6" y="378.8" class="cl2" textLength="29.1" lengthAdjust="spacingAndGlyphs">ASIR</text>
<text x="354.9" y="378.8" class="cc" textLength="38" lengthAdjust="spacing">的差异</text>
<text x="399.2" y="379.4" text-anchor="middle" class="cp">;</text>
<text x="406" y="378.8" class="cl2" textLength="8.5" lengthAdjust="spacingAndGlyphs">D</text>
<text x="421.5" y="379.4" text-anchor="middle" class="cp">:</text>
<text x="427.3" y="378.8" class="cc" textLength="179.4" lengthAdjust="spacing">全球和中国居民不同年龄段肝癌</text>
<text x="610.2" y="378.8" class="cl2" textLength="36.4" lengthAdjust="spacingAndGlyphs">ASMR</text>
<text x="650.2" y="378.8" class="cc" textLength="38" lengthAdjust="spacing">的差异</text>
<text x="695" y="379.4" text-anchor="middle" class="cp">;</text>
<text x="701.4" y="378.8" class="cl2" textLength="7.5" lengthAdjust="spacingAndGlyphs">E</text>
<text x="715.8" y="379.4" text-anchor="middle" class="cp">:</text>
<text x="721.7" y="378.8" class="cc" textLength="102.8" lengthAdjust="spacing">全球男性和女性不</text>
<text x="195.8" y="398.7" class="cc" textLength="75.8" lengthAdjust="spacing">同年龄段肝癌</text>
<text x="275.2" y="398.7" class="cl2" textLength="36.3" lengthAdjust="spacingAndGlyphs">ASMR</text>
<text x="315.7" y="398.7" class="cc" textLength="37.4" lengthAdjust="spacing">的差异</text>
<text x="359.6" y="399.3" text-anchor="middle" class="cp">;</text>
<text x="366.6" y="398.7" class="cl2" textLength="7.2" lengthAdjust="spacingAndGlyphs">F</text>
<text x="380.8" y="399.3" text-anchor="middle" class="cp">:</text>
<text x="386.6" y="398.7" class="cc" textLength="178.1" lengthAdjust="spacing">中国男性和女性不同年龄段肝癌</text>
<text x="567.5" y="398.7" class="cl2" textLength="36.4" lengthAdjust="spacingAndGlyphs">ASMR</text>
<text x="607.5" y="398.7" class="cc" textLength="38" lengthAdjust="spacing">的差异</text>
<text x="238.1" y="419.4" class="cb" textLength="11.3" lengthAdjust="spacingAndGlyphs">图</text>
<text x="253.2" y="418" class="cb3">3</text>
<text x="271.6" y="418.6" class="cl2" textLength="25.2" lengthAdjust="spacingAndGlyphs">2020</text>
<text x="299.1" y="418.6" class="cc" textLength="304.4" lengthAdjust="spacing">年全球和中国居民肝癌发病率和死亡率的年龄趋势特征</text>
</svg>

</body></html>
